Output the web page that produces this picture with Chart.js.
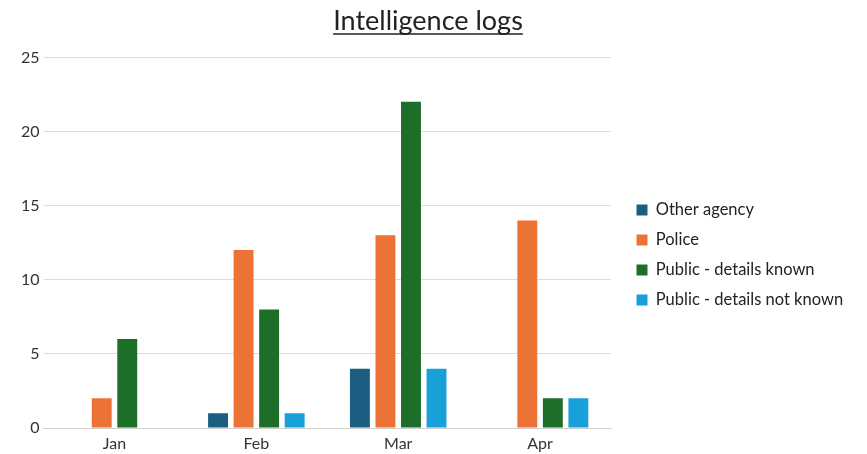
<!DOCTYPE html>
<html>
<head>
<meta charset="utf-8">
<script src="https://cdn.jsdelivr.net/npm/chart.js@4"></script>
<style>
  html, body { margin: 0; padding: 0; background: #fff; }
  #wrap { width: 867px; height: 454px; }
</style>
</head>
<body>
<div id="wrap"><canvas id="chartLogs"></canvas></div>
<script>
const months = ["Jan", "Feb", "Mar", "Apr"];
const otherAgency = [0, 1, 4, 0];
const police = [2, 12, 13, 14];
const publicKnown = [6, 8, 22, 2];
const publicNotKnown = [0, 1, 4, 2];

const ctx_logs = document.getElementById("chartLogs");

const TITLE_DX = -14;

// shift a layout box when it is drawn
function shiftDraw(box, dx, dy) {
  const draw = box.draw;
  box.draw = function () {
    this.ctx.save();
    this.ctx.translate(dx, dy);
    draw.apply(this, arguments);
    this.ctx.restore();
  };
}

// underline under the title
const underlineTitle = {
  id: "underlineTitle",
  afterDraw(chart) {
    const t = chart.titleBlock;
    if (!t) return;
    const c = chart.ctx;
    c.save();
    c.font = "27px Lato";
    const w = c.measureText(t.options.text).width;
    const cx = (t.left + t.right) / 2 + TITLE_DX;
    c.strokeStyle = "#222";
    c.lineWidth = 1.5;
    c.beginPath();
    c.moveTo(cx - w / 2, 34);
    c.lineTo(cx + w / 2, 34);
    c.stroke();
    c.restore();
  },
};

// legend with a fixed width, title and legend nudged into place
const placeBoxes = {
  id: "placeBoxes",
  beforeLayout(chart) {
    const lg = chart.legend;
    if (lg && !lg._patched) {
      lg._patched = true;
      const fit = lg.fit;
      lg.fit = function () {
        fit.call(this);
        this.width = 256;
      };
      shiftDraw(lg, 12, 28);
    }
    const tb = chart.titleBlock;
    if (tb && !tb._patched) {
      tb._patched = true;
      shiftDraw(tb, TITLE_DX, 0);
    }
  },
};

Chart.defaults.font.family = "Lato, sans-serif";
Chart.defaults.color = "#333";

const myChart = new Chart(ctx_logs, {
  type: "bar",
  data: {
    labels: months,
    datasets: [
      { label: "Other agency", data: otherAgency, backgroundColor: "#1B5E82" },
      { label: "Police", data: police, backgroundColor: "#ED7235" },
      { label: "Public - details known", data: publicKnown, backgroundColor: "#1C6E29" },
      { label: "Public - details not known", data: publicNotKnown, backgroundColor: "#18A0D8" },
    ],
  },
  options: {
    responsive: true,
    maintainAspectRatio: false,
    animation: false,
    datasets: {
      bar: { categoryPercentage: 0.72, barPercentage: 0.78 },
    },
    layout: { padding: { left: 17, right: 0, bottom: 0 } },
    plugins: {
      title: {
        display: true,
        text: "Intelligence logs",
        color: "#222",
        font: { size: 27, weight: "normal" },
        padding: { top: 5, bottom: 20 },
      },
      legend: {
        position: "right",
        align: "center",
        labels: {
          boxWidth: 11,
          boxHeight: 11,
          padding: 13.5,
          color: "#222",
          font: { size: 16.5 },
        },
      },
      tooltip: { enabled: false },
    },
    scales: {
      x: {
        grid: { display: false, drawTicks: false },
        border: { color: "#D0D0D0" },
        ticks: { font: { size: 16 }, color: "#333", padding: 6 },
        afterFit(scale) { scale.height = 26; },
      },
      y: {
        beginAtZero: true,
        max: 25,
        ticks: { stepSize: 5, font: { size: 16 }, color: "#333", padding: 4 },
        grid: { color: "#DCDCDC", drawTicks: false },
        border: { display: false },
      },
    },
  },
  plugins: [underlineTitle, placeBoxes],
});
</script>
</body>
</html>
